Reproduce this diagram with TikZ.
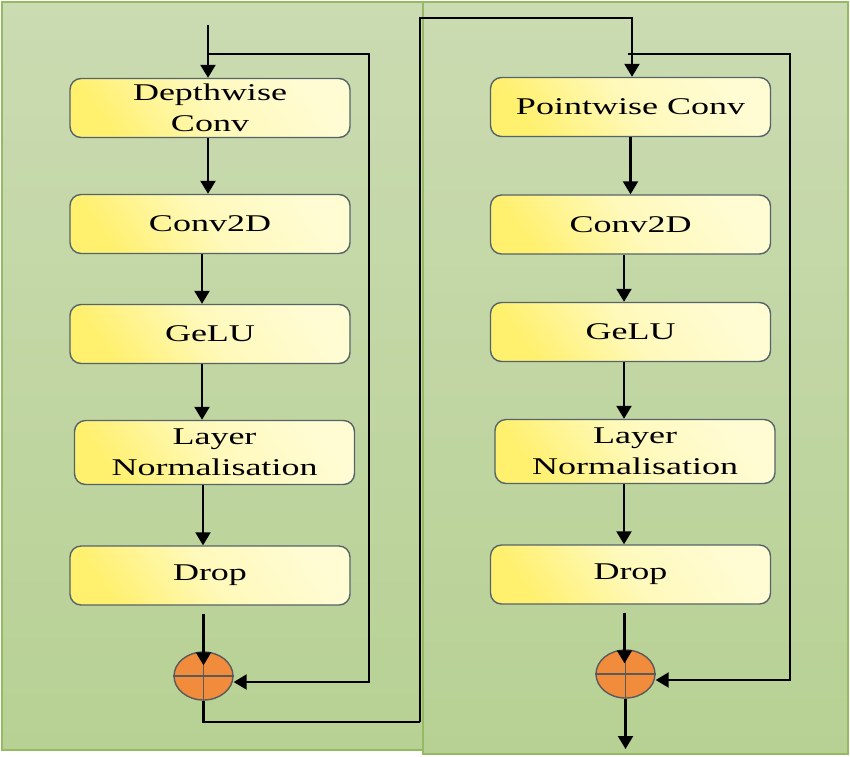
\documentclass[tikz,border=0pt]{standalone}
\usepackage{fontspec}
\newfontfamily\labfont[FakeStretch=1.5]{Liberation Serif}
\usetikzlibrary{shapes.geometric,arrows.meta}
\definecolor{panelTop}{RGB}{203,219,178}
\definecolor{panelBot}{RGB}{183,209,148}
\definecolor{panelEdge}{RGB}{150,185,100}
\definecolor{boxA}{RGB}{255,240,110}
\definecolor{boxB}{RGB}{255,252,212}
\definecolor{boxEdge}{RGB}{85,100,105}
\definecolor{sumFill}{RGB}{240,140,60}
\definecolor{sumEdge}{RGB}{90,90,90}
\begin{document}
\begin{tikzpicture}[x=1pt,y=-1pt,
 panel/.style={draw=panelEdge, line width=1.5pt, top color=panelTop, bottom color=panelBot},
 blk/.style={draw=boxEdge, line width=1.4pt, rounded corners=11pt,
   left color=boxA, right color=boxB, middle color=boxB!75!boxA, shading angle=125,
   minimum width=280pt, minimum height=59pt, inner sep=2pt, align=center,
   font=\labfont\fontsize{24}{31}\selectfont, text=black},
 sum/.style={ellipse, draw=sumEdge, line width=1.4pt, fill=sumFill, minimum width=59pt, minimum height=48pt, inner sep=0pt},
 cross/.style={draw=sumEdge, line width=1.8pt},
 arr/.style={line width=2.2pt, -{Triangle[width=15pt,length=13pt]}},
 ln/.style={line width=2.2pt}]
\useasboundingbox (0,0) rectangle (850,756);
\fill[white] (0,0) rectangle (850,756);
% panels
\path[panel] (2,2) rectangle (425,750);
\path[panel] (423,2) rectangle (848,754);
% left column
\node[blk] (d1) at (210,108) {Depthwise\\Conv};
\node[blk] (d2) at (210,224) {Conv2D};
\node[blk] (d3) at (210,334) {GeLU};
\node[blk, minimum height=64pt] (d4) at (214.5,452.5) {Layer\\Normalisation};
\node[blk] (d5) at (210,575.5) {Drop};
\node[sum] (c1) at (203.5,676) {};
% right column
\node[blk] (p1) at (630.5,107) {Pointwise Conv};
\node[blk] (p2) at (630.5,224.5) {Conv2D};
\node[blk] (p3) at (630.5,332) {GeLU};
\node[blk, minimum height=64pt] (p4) at (635,451.5) {Layer\\Normalisation};
\node[blk] (p5) at (630.5,574.5) {Drop};
\node[sum] (c2) at (625.5,674) {};
% crosses
\draw[cross] (c1.north) -- (c1.south) (c1.west) -- (c1.east);
\draw[cross] (c2.north) -- (c2.south) (c2.west) -- (c2.east);
% coordinates
\coordinate (inL) at (208,25);
\coordinate (bL) at (208,54);
\coordinate (sLt) at (369,54);
\coordinate (sL) at (369,682);
\coordinate (jA) at (203.5,722);
\coordinate (jB) at (420,722);
\coordinate (jC) at (420,18);
\coordinate (jD) at (632,18);
\coordinate (bR) at (628,54);
\coordinate (sRt) at (790,54);
\coordinate (sR) at (790,680);
\coordinate (outR) at (625.5,749);
% left flow
\draw[arr] (inL) -- (inL |- d1.north);
\draw[arr] ([xshift=-2pt]d1.south) -- ([xshift=-2pt]d2.north);
\draw[arr] ([xshift=-8pt]d2.south) -- ([xshift=-8pt]d3.north);
\draw[arr] ([xshift=-8pt]d3.south) -- ([xshift=-8pt]d3.south |- d4.north);
\draw[arr] ([xshift=-11.5pt]d4.south) -- ([xshift=-11.5pt]d4.south |- d5.north);
\draw[arr] ([xshift=-6.5pt,yshift=-8pt]d5.south) -- ([yshift=-14pt]c1.north);
\draw[arr] (bL) -- (sLt) -- (sL) -- (sL -| c1.east);
% link between columns
\draw[ln, line width=2.8pt] (c1.south) -- (jA) -- (jB);
\draw[arr] (jB) -- (jC) -- (jD) -- (jD |- p1.north);
% right flow
\draw[arr] (p1.south) -- (p2.north);
\draw[arr] ([xshift=-6.5pt]p2.south) -- ([xshift=-6.5pt]p3.north);
\draw[arr] ([xshift=-6.5pt]p3.south) -- ([xshift=-6.5pt]p3.south |- p4.north);
\draw[arr] ([xshift=-11pt]p4.south) -- ([xshift=-11pt]p4.south |- p5.north);
\draw[arr] ([xshift=-6pt,yshift=-8pt]p5.south) -- ([xshift=-1pt,yshift=-14pt]c2.north);
\draw[arr] (bR) -- (sRt) -- (sR) -- (sR -| c2.east);
\draw[arr] (c2.south) -- (outR);
\end{tikzpicture}
\end{document}
